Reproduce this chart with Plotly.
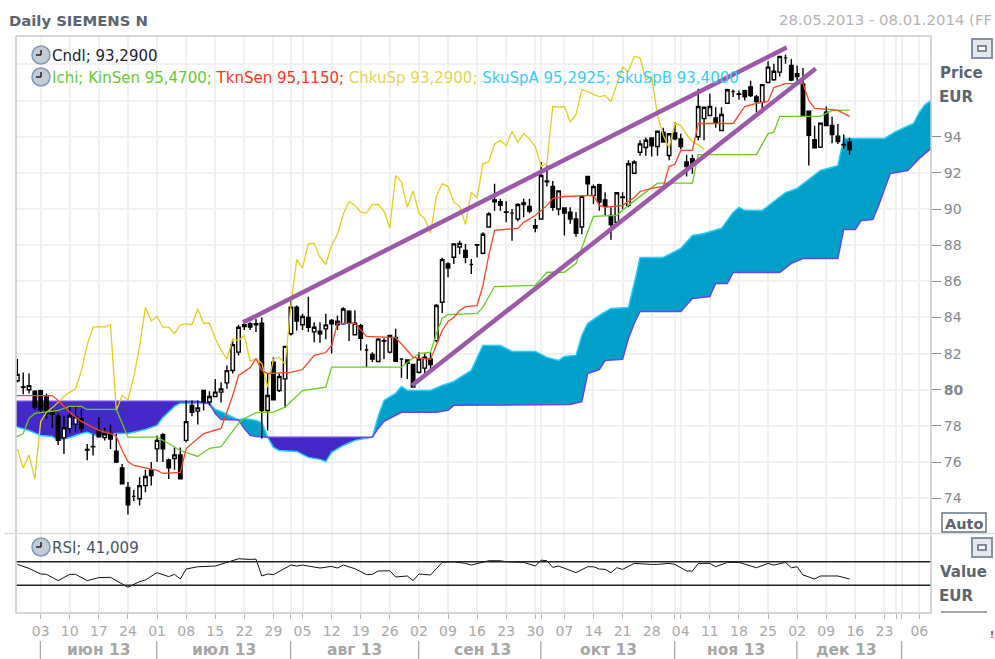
import plotly.graph_objects as go

# ---------- candles (trading-day index 0 = 28.05.2013) ----------
opens = [80.5,80.15,80.0,79.92,79.95,79.6,78.75,78.57,77.34,77.85,
78.1,78.4,76.7,76.87,77.75,77.35,77.55,76.6,75.68,74.6,
74.1,73.97,74.7,75.57,76.73,77.52,76.12,76.2,76.4,77.2,
79.13,78.82,79.96,79.32,79.63,79.87,80.38,81.07,82.08,83.6,
83.65,83.65,83.68,78.85,81.53,79.96,80.6,83.1,84.57,83.6,
84.0,83.2,83.24,83.37,83.83,83.8,83.65,84.35,83.04,83.55,
82.2,81.95,81.56,82.7,82.08,82.9,81.7,81.65,81.4,80.97,
81.2,81.7,82.72,84.84,86.96,87.33,87.9,87.7,86.93,88.03,
87.55,89.0,90.5,90.4,89.83,89.77,89.45,90.33,90.14,89.07,
89.45,91.55,91.25,90.0,90.06,89.82,89.45,89.0,91.8,90.74,
91.35,90.5,89.64,89.27,90.66,90.2,91.98,93.14,93.4,93.93,
93.46,94.25,92.96,94.2,93.88,92.6,92.78,94.0,95.0,95.17,
95.04,94.34,95.85,96.5,96.37,96.55,96.75,96.2,95.9,97.0,
97.15,97.57,98.36,97.94,97.48,96.92,95.41,93.84,93.42,95.35,
94.62,94.03,93.57,93.7]
highs = [81.7,80.95,80.9,79.98,80.0,79.8,79.0,78.7,78.55,79.1,
79.1,78.95,77.0,77.55,78.5,77.9,78.07,77.55,75.9,74.9,
74.46,75.16,75.57,76.0,77.47,77.6,76.2,76.8,76.8,79.4,
79.4,79.4,80.0,79.92,80.6,80.42,81.34,82.73,83.6,83.9,
83.74,83.92,84.0,80.9,81.8,80.9,82.4,85.0,84.66,84.2,
85.15,83.74,83.74,84.2,83.92,84.1,84.57,84.4,84.4,83.65,
82.5,82.07,82.85,82.85,83.0,83.37,81.7,81.67,81.4,82.07,
82.0,82.07,84.75,87.3,87.06,88.07,88.25,88.07,87.24,88.07,
88.72,89.82,91.4,90.56,90.43,90.0,90.32,90.56,90.56,89.45,
92.6,92.4,91.55,91.02,90.1,90.1,89.82,90.74,91.8,91.35,
91.4,90.93,90.1,90.93,90.93,92.7,92.7,93.8,93.95,93.95,
94.34,94.5,94.16,94.8,94.16,93.0,93.0,96.65,95.67,96.37,
95.63,95.63,96.65,96.6,96.55,96.6,97.1,96.3,96.92,98.18,
98.03,98.44,98.55,98.3,97.94,97.8,95.41,94.6,94.75,95.67,
95.1,94.7,94.12,93.94]
lows = [80.4,79.75,79.8,78.9,78.7,78.4,77.9,76.95,76.45,77.6,
77.65,77.65,76.1,76.37,77.37,77.2,76.73,75.95,74.8,73.1,
73.85,73.6,74.33,74.7,76.0,76.0,75.07,75.57,75.07,77.1,
78.54,78.08,78.85,79.13,79.6,79.3,80.05,80.9,81.9,83.3,
83.3,83.2,77.3,77.75,79.4,79.87,79.0,83.0,83.28,83.3,
83.2,82.63,82.6,82.8,82.0,83.3,83.6,82.7,83.0,82.17,
81.25,81.53,81.53,81.7,82.0,81.53,80.66,80.6,80.15,80.9,
80.9,81.15,82.63,84.24,86.23,86.96,87.5,87.0,86.4,87.33,
87.5,89.0,89.9,89.9,89.27,88.25,89.32,89.55,89.77,88.72,
89.4,91.25,89.9,89.65,88.53,89.18,88.47,88.6,90.74,90.28,
89.9,89.64,88.3,89.18,90.0,90.1,91.95,92.95,92.95,92.9,
92.95,93.7,92.7,93.8,93.3,91.8,91.95,93.8,93.8,95.17,
94.5,94.3,95.85,96.2,96.04,96.0,96.2,95.35,95.3,96.96,
97.1,97.33,98.03,97.07,97.0,95.17,92.4,93.38,93.38,94.6,
93.64,93.6,93.33,93.0]
closes = [80.85,80.13,80.23,79.04,78.9,78.7,78.65,77.2,77.9,78.55,
78.5,77.85,76.67,76.85,77.4,77.56,77.28,76.0,74.8,73.63,
74.1,74.7,75.2,75.26,77.2,76.73,75.68,76.4,75.07,78.24,
78.76,79.0,79.32,79.63,79.87,80.05,81.06,82.5,83.46,83.5,
83.47,83.6,78.85,79.68,79.44,80.73,82.4,84.57,83.8,84.05,
83.46,83.46,83.1,83.59,83.65,83.6,84.47,83.68,83.68,82.85,
82.2,81.7,82.8,82.72,83.0,81.58,81.7,81.47,80.15,81.7,
81.8,81.4,84.66,87.2,86.74,88.07,88.1,87.33,86.93,88.0,
88.6,89.73,90.4,90.2,89.82,89.77,90.25,90.25,89.88,88.95,
91.85,91.5,90.1,91.0,89.77,89.45,88.66,90.7,91.4,91.24,
90.38,90.15,89.14,90.9,90.64,92.5,92.6,93.6,93.8,93.5,
94.3,93.7,94.16,93.88,93.46,92.35,92.54,95.67,95.63,95.67,
94.8,95.23,96.6,96.5,96.34,96.2,96.28,95.95,96.88,97.85,
97.62,98.44,98.36,97.14,97.33,95.17,94.07,93.38,94.75,94.62,
94.12,93.73,93.55,93.29]
candle_x = list(range(len(closes)))

# ---------- Ichimoku lines ----------
chikou = [76.73,75.68,76.4,75.07,78.24,
78.76,79.0,79.32,79.63,79.87,80.05,81.06,82.5,83.46,83.5,
83.47,83.6,78.85,79.68,79.44,80.73,82.4,84.57,83.8,84.05,
83.46,83.46,83.1,83.59,83.65,83.6,84.47,83.68,83.68,82.85,
82.2,81.7,82.8,82.72,83.0,81.58,81.7,81.47,80.15,81.7,
81.8,81.4,84.66,87.2,86.74,88.07,88.1,87.33,86.93,88.0,
88.6,89.73,90.4,90.2,89.82,89.77,90.25,90.25,89.88,88.95,
91.85,91.5,90.1,91.0,89.77,89.45,88.66,90.7,91.4,91.24,
90.38,90.15,89.14,90.9,90.64,92.5,92.6,93.6,93.8,93.5,
94.3,93.7,94.16,93.88,93.46,92.35,92.54,95.67,95.63,95.67,
94.8,95.23,96.6,96.5,96.34,96.2,96.28,95.95,96.88,97.85,
97.62,98.44,98.36,97.14,97.33,95.17,94.07,93.38,94.75,94.62,
94.12,93.73,93.55,93.29]
chikou_x = list(range(len(chikou)))

tenkan_x = [-1,6,7,9,11,14,16,17,18,19,20,24,25,28,29,31,32,35,36,37,38,40,41,42,43,47,49,51,53,54,55,58,60,65,67,68,71,72,73,74,75,76,77,79,80,81,82,86,87,89,91,92,94,99,100,101,104,106,107,109,111,112,113,114,116,117,123,125,127,129,130,132,134,135,136,137,140,141,143]
tenkan = [79.68,79.68,79.41,78.76,78.25,77.75,77.58,77.42,76.64,76.03,75.81,75.54,75.37,75.43,76.75,77.3,77.58,77.86,78.75,79.68,80.79,81.23,81.73,81.07,80.9,80.96,81.12,81.9,82.06,82.45,83.67,83.67,82.95,82.89,82.17,81.79,81.68,82.45,83.28,83.78,84.0,84.39,84.6,84.66,85.77,87.43,88.82,88.93,89.26,89.64,90.2,90.58,90.69,90.75,90.2,90.09,90.2,90.64,90.97,91.14,91.25,92.36,92.47,93.24,93.24,94.73,94.73,95.67,95.84,95.95,96.72,96.94,96.94,96.94,96.0,95.56,95.5,95.45,95.12]

kijun_x = [-1,0,1,2,3,7,9,11,12,17,19,24,26,28,31,33,35,38,39,41,44,46,49,53,54,66,69,71,72,73,74,79,80,82,89,91,94,96,99,103,105,110,116,117,127,129,130,131,138,140,143]
kijun = [77.36,77.42,77.58,78.42,78.69,78.86,79.08,79.08,78.91,78.91,77.38,77.38,77.03,76.64,76.31,76.76,76.86,78.14,78.41,78.74,78.76,79.04,79.96,80.14,81.25,81.25,82.0,82.08,83.11,83.94,84.16,84.22,84.57,85.71,85.77,86.5,86.5,87.0,89.59,89.65,90.2,91.43,91.43,93.01,93.01,94.17,94.25,95.12,95.12,95.45,95.47]

span_a_x = [-1,2,4,6,7,9,11,12,14,17,19,22,24,25,27,28,33,34,35,38,39,41,42,43,44,45,48,50,52,53,54,56,58,60,61,62,63,65,66,67,71,73,75,78,79,80,83,85,89,91,93,94,96,97,98,100,102,105,106,107,111,114,116,118,121,123,124,125,128,132,134,138,141,142,149,151,154,155,156,157]
span_a = [78.03,77.75,77.47,77.42,77.2,77.36,77.58,77.65,77.42,77.58,77.58,77.8,78.03,78.47,79.08,79.26,79.24,78.91,78.8,78.33,78.41,78.3,78.19,77.38,76.81,76.64,76.59,76.26,76.15,76.03,76.54,76.92,77.2,77.33,77.38,78.52,79.41,79.8,80.18,79.96,79.96,80.24,80.46,81.07,81.73,82.45,82.45,82.12,82.12,81.79,81.62,81.84,81.9,83.0,83.67,84.11,84.5,84.55,85.88,87.32,87.32,87.82,88.54,88.65,88.93,89.81,90.09,89.92,89.92,90.91,91.14,92.13,92.4,93.9,93.9,94.29,94.73,95.34,95.78,96.0]

span_b_x = [-1,31,33,34,35,38,39,40,41,43,61,62,63,65,66,72,74,75,95,97,98,100,101,104,105,106,107,114,116,119,120,122,123,131,133,135,141,142,144,145,147,148,149,150,153,155,157]
span_b = [79.37,79.37,79.24,78.69,78.36,78.33,77.86,77.48,77.42,77.38,77.38,77.86,78.25,78.58,78.75,78.75,78.86,79.14,79.19,79.35,80.9,81.12,81.62,81.68,82.84,83.67,84.33,84.33,85.05,85.16,85.88,85.88,86.49,86.49,86.99,87.26,87.26,88.87,88.87,89.36,89.42,90.2,91.14,91.96,92.13,92.8,93.35]

# cloud crossings: [first index, last index, colour]
cloud_parts = [(-1, 33, "#4428C8"), (33, 38, "#00A0C8"), (38, 43, "#00A0C8"), (43, 61, "#4428C8"), (61, 157, "#00A0C8")]

# ---------- trend lines ----------
trend_upper_x = [38.76, 132.2]
trend_upper_y = [83.72, 98.93]
trend_lower_x = [67.8, 137.2]
trend_lower_y = [80.24, 97.77]

# ---------- RSI ----------
rsi_x = [0,2,4,5,7,9,10,12,14,16,18,19,21,22,24,26,27,28,29,31,34,37,38,40,41,42,43,44,47,48,49,52,53,54,55,56,58,60,61,62,64,65,67,68,69,71,73,75,77,78,81,83,84,87,89,90,91,92,93,96,98,99,100,101,102,103,104,106,109,110,112,113,115,116,117,119,120,122,124,125,127,129,130,132,133,134,135,137,138,141,142,143]
rsi = [65.5,58.7,49.1,48.5,37.8,48.5,48.5,37.8,42.9,43.4,32.1,26.5,36.1,38.9,51.4,44.6,48.5,40.6,57.6,61.5,62.7,71.7,75.1,74,74.5,45.7,49.1,48,64.4,62.7,64.4,59.3,60.4,62.1,59.3,64.4,58.1,48,48.5,54.2,54.7,44,45.7,37.8,49.1,47.4,68.9,70,67.2,64.4,71.7,71.7,70,68.9,62.7,72.8,71.7,60.4,62.7,51.4,61.5,61.5,57.6,57,51.4,59.8,57,67.2,65.5,65.5,67.2,65.5,54.2,54.2,67.2,67.2,61.5,68.9,68.9,65.5,59.8,67.2,64.4,68.9,59.8,61.5,47.4,40.6,45.7,45.7,43.4,40.6]
rsi_levels = [70, 30]

# ---------- axis labels ----------
week_ticks = [4,9,14,19,24,29,34,39,44,49,54,59,64,69,74,79,84,89,94,99,104,109,114,119,124,129,134,139,144,149,155]
week_labels = ["03","10","17","24","01","08","15","22","29","05","12","19","26","02","09","16","23","30","07","14","21","28","04","11","18","25","02","09","16","23","06"]
extra_ticks = [47, 90, 113, 151, 152]
month_edges = [4, 24, 47, 69, 90, 113, 134, 152]
month_names = ["июн 13", "июл 13", "авг 13", "сен 13", "окт 13", "ноя 13", "дек 13"]
month_centers = [14, 35.5, 58, 80, 101.5, 123.5, 142.5]
price_ticks = list(range(74, 96, 2))
last_values = {"SkuSpA": 95.29, "SkuSpB": 93.40, "ChkuSp": 93.29}

W, H = 995, 659
L, R, T, B = 16, 64, 36, 46
PW, PH = W - L - R, H - T - B
SPLIT = (613 - 533.3) / PH
FONT = "DejaVu Sans"

def px(x):
    return (x - L) / PW

def py(y):
    return (H - B - y) / PH

fig = go.Figure()

# cloud
def part(xs, ys, a, b):
    return [(x, y) for x, y in zip(xs, ys) if a <= x <= b]

for a, b, col in cloud_parts:
    pa = part(span_a_x, span_a, a, b)
    pb = part(span_b_x, span_b, a, b)
    poly = pa + pb[::-1]
    fig.add_trace(go.Scatter(x=[p[0] for p in poly], y=[p[1] for p in poly], mode="lines",
                             fill="toself", fillcolor=col, line=dict(width=0, color=col),
                             hoverinfo="skip", zorder=-2))
fig.add_trace(go.Scatter(x=span_a_x, y=span_a, mode="lines", line=dict(color="#22CCFF", width=1.5),
                         hoverinfo="skip", zorder=-1))
fig.add_trace(go.Scatter(x=span_b_x, y=span_b, mode="lines", line=dict(color="#6A46E6", width=1.5),
                         hoverinfo="skip", zorder=-1))

fig.add_trace(go.Candlestick(x=candle_x, open=opens, high=highs, low=lows, close=closes,
                             increasing=dict(line=dict(color="#000000", width=1.4), fillcolor="#FFFFFF"),
                             decreasing=dict(line=dict(color="#000000", width=1.4), fillcolor="#000000"),
                             whiskerwidth=0, hoverinfo="skip"))

fig.add_trace(go.Scatter(x=chikou_x, y=chikou, mode="lines", line=dict(color="#E3CF1C", width=1.3), hoverinfo="skip"))
fig.add_trace(go.Scatter(x=kijun_x, y=kijun, mode="lines", line=dict(color="#66CC22", width=1.3), hoverinfo="skip"))
fig.add_trace(go.Scatter(x=tenkan_x, y=tenkan, mode="lines", line=dict(color="#FF4422", width=1.3), hoverinfo="skip"))

fig.add_trace(go.Scatter(x=trend_upper_x, y=trend_upper_y, mode="lines", line=dict(color="#9B59A8", width=4.5), hoverinfo="skip", zorder=2))
fig.add_trace(go.Scatter(x=trend_lower_x, y=trend_lower_y, mode="lines", line=dict(color="#9B59A8", width=4.5), hoverinfo="skip", zorder=2))

# last-value diamonds on the axis
fig.add_trace(go.Scatter(x=[158.3], y=[last_values["ChkuSp"]], mode="markers", cliponaxis=False,
                         marker=dict(symbol="diamond", size=13, color="#E3CF1C"), hoverinfo="skip"))
fig.add_trace(go.Scatter(x=[158.3, 158.3], y=[last_values["SkuSpA"], last_values["SkuSpB"]], mode="markers",
                         cliponaxis=False, marker=dict(symbol="diamond", size=10, color="#22CCEE"), hoverinfo="skip"))

# RSI
fig.add_trace(go.Scatter(x=rsi_x, y=rsi, mode="lines", line=dict(color="#111111", width=1), xaxis="x", yaxis="y2", hoverinfo="skip"))
for lvl in rsi_levels:
    fig.add_trace(go.Scatter(x=[-1, 157], y=[lvl, lvl], mode="lines", line=dict(color="#222222", width=1.4),
                             xaxis="x", yaxis="y2", hoverinfo="skip"))

shapes = []
annots = []

def line(x0, y0, x1, y1, col, w=1):
    shapes.append(dict(type="line", xref="paper", yref="paper", x0=px(x0), y0=py(y0), x1=px(x1), y1=py(y1),
                       line=dict(color=col, width=w), layer="above"))

def rect(x0, y0, x1, y1, col, fill, w=1):
    shapes.append(dict(type="rect", xref="paper", yref="paper", x0=px(x0), y0=py(y0), x1=px(x1), y1=py(y1),
                       line=dict(color=col, width=w), fillcolor=fill, layer="above"))

def text(x, y, s, size, col, bold=False, anchor="left"):
    annots.append(dict(xref="paper", yref="paper", x=px(x), y=py(y), text=f"<b>{s}</b>" if bold else s,
                       showarrow=False, xanchor=anchor, yanchor="middle",
                       font=dict(family=FONT, size=size, color=col)))

def clock(cx, cy):
    shapes.append(dict(type="circle", xref="paper", yref="paper", x0=px(cx - 9), y0=py(cy - 9), x1=px(cx + 9), y1=py(cy + 9),
                       line=dict(color="#7F9AB5", width=1.5), fillcolor="#C3CCD6", layer="above"))
    line(cx, cy - 5, cx, cy, "#222222", 1.5)
    line(cx - 5, cy, cx, cy, "#222222", 1.5)

def button(x0, y0):
    rect(x0, y0, x0 + 20, y0 + 19, "#8392A8", "#E4E7EC", 2)
    rect(x0 + 6, y0 + 7, x0 + 14, y0 + 12, "#5A6A80", "#FFFFFF", 1.5)

# frame
line(16, 36, 931, 36, "#C8C8C8", 1.5)
line(16, 36, 16, 613, "#C8C8C8", 1.5)
line(931, 36, 931, 613, "#C8C8C8", 1.5)
line(16, 613, 931, 613, "#C8C8C8", 1.5)
line(4, 533.5, 995, 533.5, "#DADADA", 1.5)

# month separators and names
for m in month_edges:
    shapes.append(dict(type="line", xref="x", yref="paper", x0=m - 0.05, x1=m - 0.05, y0=py(641), y1=py(659),
                       line=dict(color="#A8A8A8", width=1.3)))
for c, n in zip(month_centers, month_names):
    annots.append(dict(xref="x", yref="paper", x=c, y=py(650), text=f"<b>{n}</b>", showarrow=False,
                       xanchor="center", yanchor="middle", font=dict(family=FONT, size=15.5, color="#A6A6A6")))

text(7, 20, "Daily SIEMENS N", 14.8, "#5B6570", True)
text(777, 20, "28.05.2013 - 08.01.2014 (FF", 14.9, "#B4B4B4")
clock(41, 55)
text(50, 56, "Cndl; 93,2900", 15, "#222233")
clock(41, 77)
text(50, 78,
     '<span style="color:#66CC33">Ichi; KinSen 95,4700;</span> '
     '<span style="color:#FF3322">TknSen 95,1150;</span> '
     '<span style="color:#E3D455">ChkuSp 93,2900;</span> '
     '<span style="color:#33CCFF">SkuSpA 95,2925; SkuSpB 93,4000</span>', 15, "#66CC33")
clock(41, 547)
text(50, 548, "RSI; 41,009", 15, "#445566")
button(972, 39)
button(972, 538)
text(938, 73, "Price", 15, "#5B6570", True)
text(937, 97, "EUR", 15, "#5B6570", True)
text(938, 572, "Value", 15, "#5B6570", True)
text(937, 596, "EUR", 15, "#5B6570", True)
rect(942, 513, 986, 532, "#6A7480", "#FFFFFF", 1.5)
text(964, 524, "Auto", 14.5, "#5B6570", True, "center")
line(941, 612, 987, 612, "#8A8A8A", 1.5)
text(992, 635, "!", 9, "#CC2222", True, "center")

price_labels = [f"<b>{v}</b>" if v == 80 else str(v) for v in price_ticks]

fig.update_layout(
    width=W, height=H, margin=dict(l=L, r=R, t=T, b=B, pad=0), showlegend=False, boxgap=0.15,
    paper_bgcolor="#FFFFFF", plot_bgcolor="#FFFFFF", shapes=shapes, annotations=annots,
    xaxis=dict(domain=[0, 1], range=[-0.24, 157], anchor="y2", showgrid=True, gridcolor="#F1F1F1", gridwidth=1.5,
               zeroline=False, showline=False, rangeslider=dict(visible=False),
               tickmode="array", tickvals=week_ticks + extra_ticks, ticktext=week_labels + [""] * len(extra_ticks),
               ticks="outside", ticklen=5, tickwidth=1, tickcolor="#B8B8B8",
               tickfont=dict(family=FONT, size=14, color="#A9A9A9"), tickangle=0),
    yaxis=dict(domain=[SPLIT, 1], range=[72.06, 99.57], side="right", anchor="x", showgrid=True, gridcolor="#F1F1F1",
               gridwidth=1.5, zeroline=False, showline=False, tickmode="array", tickvals=price_ticks,
               ticktext=price_labels, ticks="outside", ticklen=9, tickwidth=1, tickcolor="#8C8C8C",
               tickfont=dict(family=FONT, size=14, color="#808890"),
               minor=dict(tickmode="array", tickvals=[96, 98], showgrid=True, gridcolor="#F1F1F1", ticks="")),
    yaxis2=dict(domain=[0, SPLIT], range=[-17.5, 118.6], anchor="x", side="right", showgrid=False, zeroline=False,
                showticklabels=False, ticks="", showline=False),
)

fig.write_html("out.html", config={"displayModeBar": False},
               post_script="document.body.style.margin='0';document.body.style.overflow='hidden';")
